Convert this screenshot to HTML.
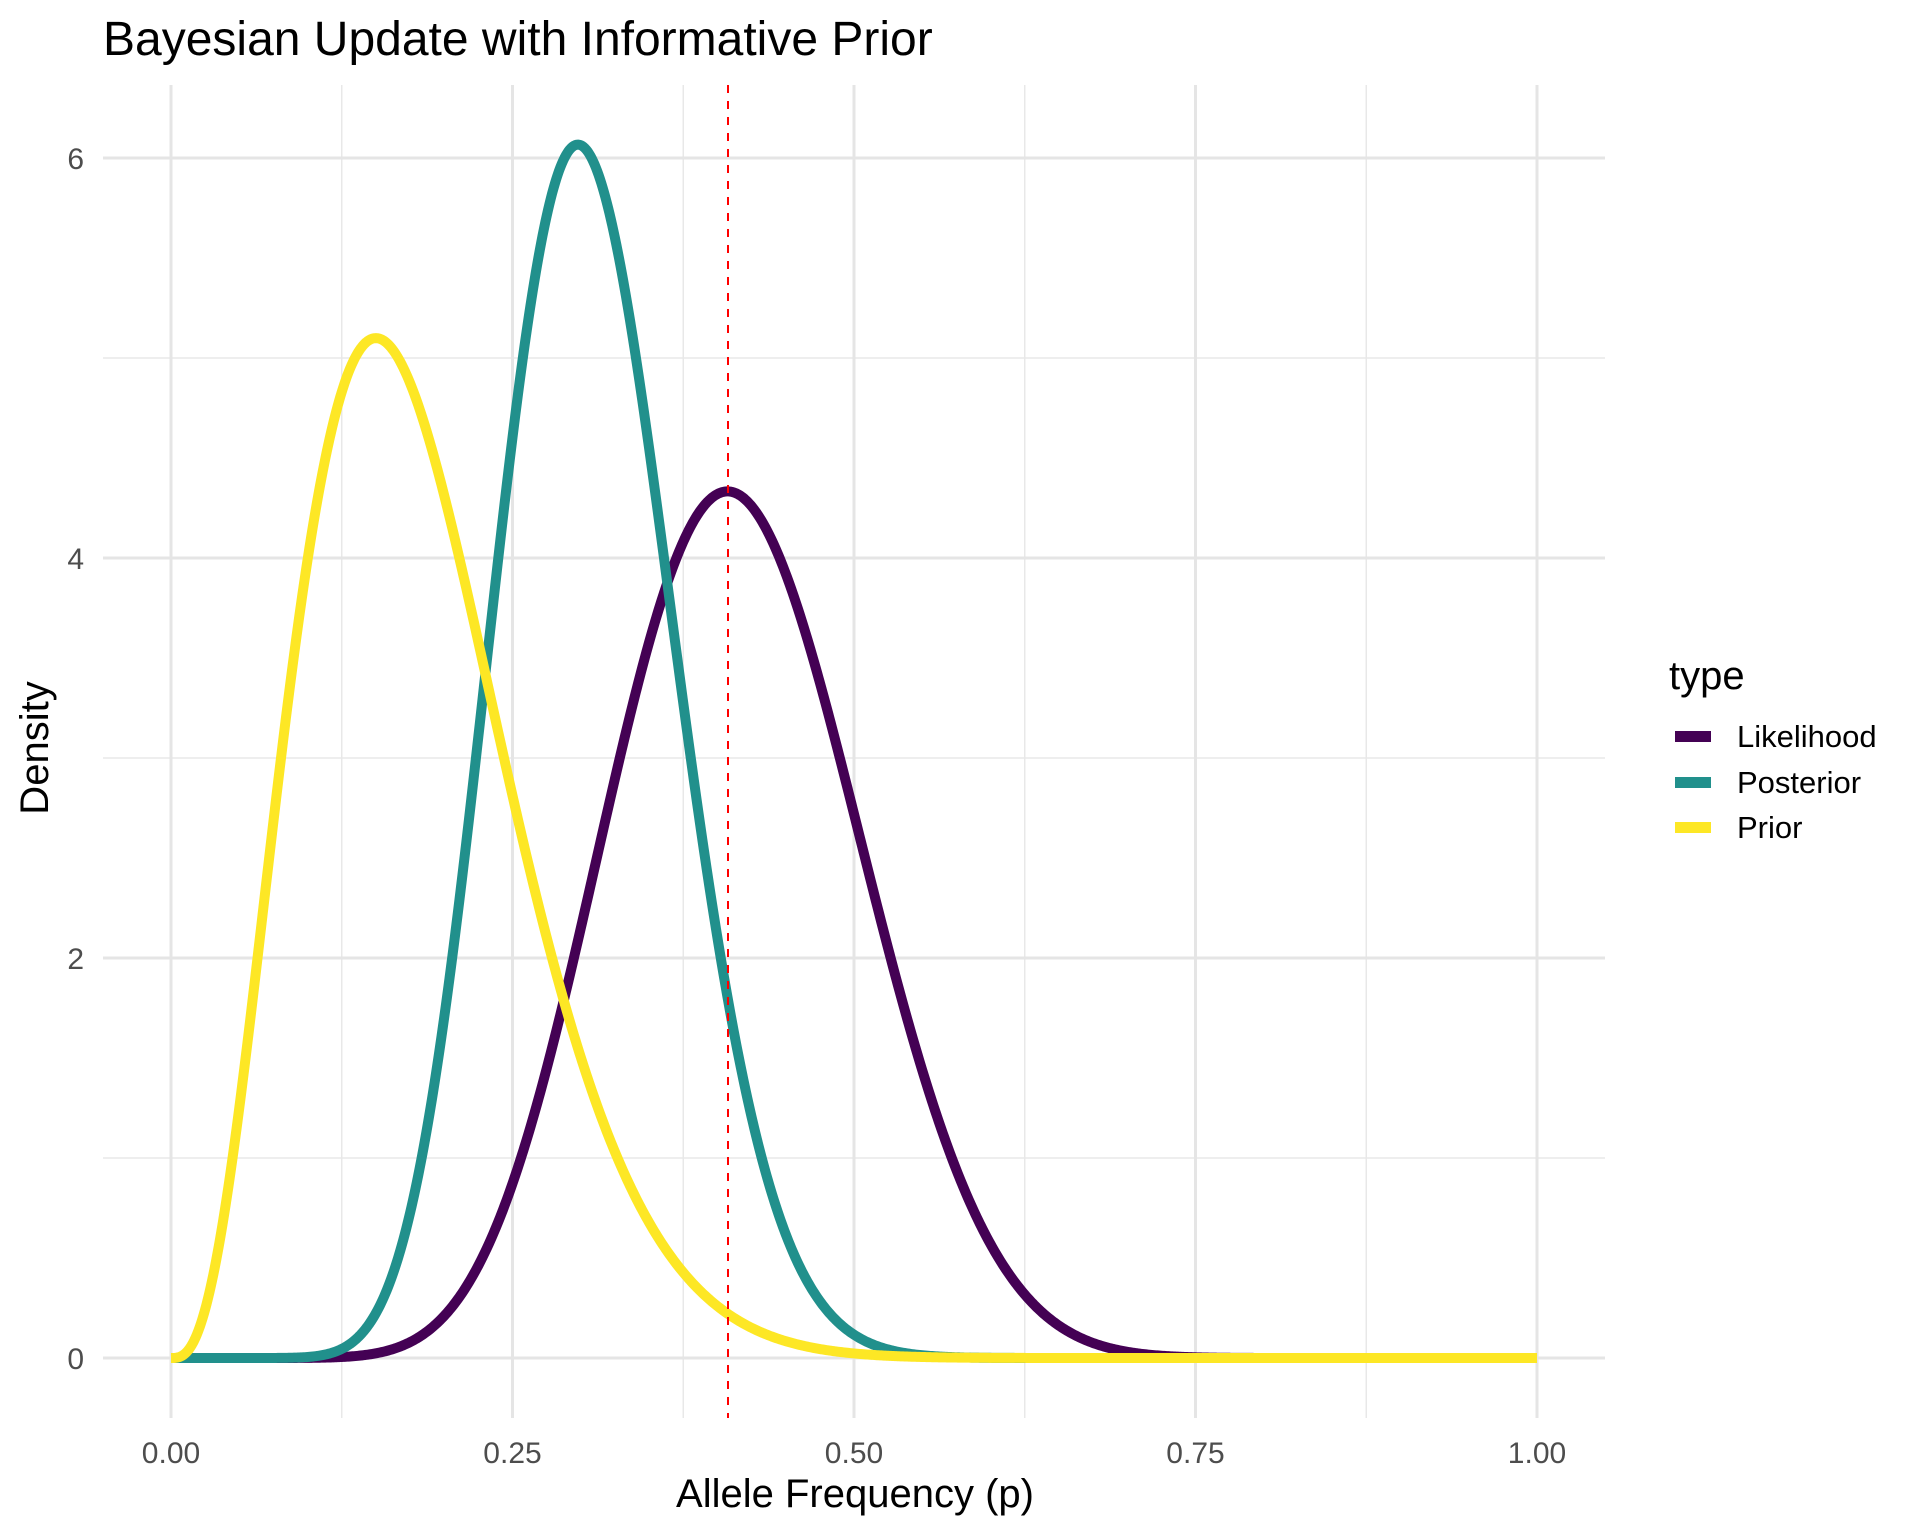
<!DOCTYPE html>
<html><head><meta charset="utf-8"><style>
html,body{margin:0;padding:0;background:#fff;width:1920px;height:1536px;overflow:hidden}
svg{display:block}
text{font-family:"Liberation Sans",Arial,sans-serif}
</style></head><body>
<svg id="s" width="1920" height="1536" xmlns="http://www.w3.org/2000/svg">
<rect width="1920" height="1536" fill="#fff"/>
<g id="grid"></g>
<g id="curves" fill="none" stroke-width="10" stroke-linejoin="round" stroke-linecap="butt"></g>
<line x1="728" x2="728" y1="85" y2="1418" stroke="#FF0000" stroke-width="2" stroke-dasharray="8,8"/>
<text x="103" y="55" font-size="48" fill="#000">Bayesian Update with Informative Prior</text>
<g font-size="30" fill="#4d4d4d" text-anchor="end">
<text x="84" y="1369">0</text><text x="84" y="969">2</text><text x="84" y="569">4</text><text x="84" y="169">6</text>
</g>
<g font-size="30" fill="#4d4d4d" text-anchor="middle">
<text x="171" y="1463">0.00</text><text x="512.5" y="1463">0.25</text><text x="854" y="1463">0.50</text><text x="1195.5" y="1463">0.75</text><text x="1537" y="1463">1.00</text>
</g>
<text x="855" y="1507" font-size="40" text-anchor="middle" fill="#000">Allele Frequency (p)</text>
<text transform="translate(48,748) rotate(-90)" font-size="40" text-anchor="middle" fill="#000">Density</text>
<text x="1669" y="689" font-size="40" fill="#000">type</text>
<rect x="1675" y="731" width="36" height="11" fill="#440154"/>
<rect x="1675" y="777" width="36" height="11" fill="#21908C"/>
<rect x="1675" y="822" width="36" height="11" fill="#FDE725"/>
<g font-size="31" fill="#000">
<text x="1737" y="747">Likelihood</text><text x="1737" y="793">Posterior</text><text x="1737" y="838">Prior</text>
</g>
</svg>
<script>
var X=function(p){return 171+1366*p}, Y=function(d){return 1358-200*d};
var L=103,R=1605,T=85,B=1418,g='';
[0.125,0.375,0.625,0.875].forEach(function(p){g+='<line x1="'+X(p)+'" x2="'+X(p)+'" y1="'+T+'" y2="'+B+'" stroke="#e8e8e8" stroke-width="1.5"/>'});
[1,3,5].forEach(function(d){g+='<line x1="'+L+'" x2="'+R+'" y1="'+Y(d)+'" y2="'+Y(d)+'" stroke="#e8e8e8" stroke-width="1.5"/>'});
[0,0.25,0.5,0.75,1].forEach(function(p){g+='<line x1="'+X(p)+'" x2="'+X(p)+'" y1="'+T+'" y2="'+B+'" stroke="#e5e5e5" stroke-width="3"/>'});
[0,2,4,6].forEach(function(d){g+='<line x1="'+L+'" x2="'+R+'" y1="'+Y(d)+'" y2="'+Y(d)+'" stroke="#e5e5e5" stroke-width="3"/>'});
document.getElementById('grid').innerHTML=g;
function lg(n){var s=0;for(var i=2;i<n;i++)s+=Math.log(i);return s;}
function beta(a,b){var lb=lg(a)+lg(b)-lg(a+b);return function(p){if(p<=0||p>=1)return 0;return Math.exp((a-1)*Math.log(p)+(b-1)*Math.log(1-p)-lb);}}
function path(f,c){var d='';for(var i=0;i<=1000;i++){var p=i/1000;d+=(i?'L':'M')+X(p).toFixed(2)+' '+Y(f(p)).toFixed(2);}return '<path d="'+d+'" stroke="'+c+'"/>';}
document.getElementById('curves').innerHTML=path(beta(12,17),'#440154')+path(beta(15,34),'#21908C')+path(beta(4,18),'#FDE725');
</script>
</body></html>
